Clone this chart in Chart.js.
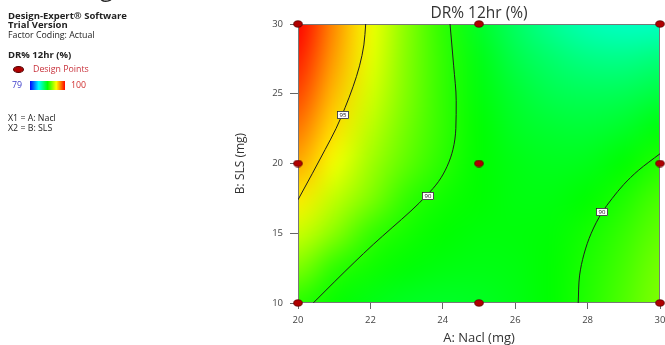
<!DOCTYPE html>
<html lang="en">
<head>
    <meta charset="UTF-8">
    <title>DR% 12hr (%)</title>
    <script src="https://cdn.jsdelivr.net/npm/chart.js@4.4.0/dist/chart.umd.min.js"></script>
    <style>
        body {
            margin: 0;
            background: #fff;
            font-family: 'Open Sans', sans-serif;
        }
        .wrap {
            position: relative;
            width: 665px;
            height: 345px;
            overflow: hidden;
        }
        #dr12Chart {
            position: absolute;
            left: 0;
            top: 0;
        }
        .side {
            position: absolute;
            left: 8px;
            font-size: 8.8px;
            line-height: 10px;
            color: #222;
            white-space: nowrap;
        }
        .bold { font-weight: bold; font-size: 9.5px; }
        .logo-g {
            position: absolute;
            left: 100px;
            top: -25px;
            font-size: 24px;
            line-height: 24px;
            color: #222;
        }
        .dot {
            display: inline-block;
            width: 11px;
            height: 7px;
            border-radius: 50%;
            background: #b00000;
            border: 1px solid #500;
            box-sizing: border-box;
            vertical-align: middle;
            margin: 0 9px 0 5px;
        }
        .bar {
            display: inline-block;
            width: 35px;
            height: 9px;
            vertical-align: middle;
            margin: 0 6px 0 8px;
            background: linear-gradient(to right, #0000ff, #00ffff 25%, #00ff00 50%, #ffff00 75%, #ff0000);
        }
    </style>
</head>
<body>

<div class="wrap">
    <canvas id="dr12Chart" width="665" height="345"></canvas>
    <div class="logo-g">g</div>
    <div class="side bold" style="top:11px">Design-Expert® Software</div>
    <div class="side bold" style="top:20px">Trial Version</div>
    <div class="side" style="top:30px">Factor Coding: Actual</div>
    <div class="side bold" style="top:50px">DR% 12hr (%)</div>
    <div class="side" style="top:64px"><span class="dot"></span><span style="color:#c8323c">Design Points</span></div>
    <div class="side" style="top:80px"><span style="color:#3c3cc8;margin-left:4px">79</span><span class="bar"></span><span style="color:#d03030">100</span></div>
    <div class="side" style="top:113px">X1 = A: Nacl</div>
    <div class="side" style="top:123px">X2 = B: SLS</div>
</div>

<script>
    // Factor levels of the response grid (A: Nacl across, B: SLS down)
    const nacl = [20, 21, 22, 23, 24, 25, 26, 27, 28, 29, 30];
    const sls = [30, 27.5, 25, 22.5, 20, 17.5, 15, 12.5, 10];

    // DR% 12hr, one row per SLS level
    const dr12 = [
        [100.0, 97.1, 94.5, 92.3, 90.4, 88.7, 87.5, 86.5, 85.8, 85.5, 85.5],
        [99.4, 96.7, 94.3, 92.2, 90.5, 89.1, 88.0, 87.3, 86.8, 86.7, 87.0],
        [98.6, 96.1, 93.9, 92.1, 90.5, 89.3, 88.5, 87.9, 87.7, 87.8, 88.2],
        [97.6, 95.4, 93.4, 91.8, 90.5, 89.5, 88.8, 88.5, 88.4, 88.7, 89.3],
        [96.5, 94.5, 92.8, 91.4, 90.3, 89.5, 89.1, 88.9, 89.0, 89.5, 90.2],
        [95.2, 93.5, 92.1, 90.5, 89.8, 89.5, 89.2, 89.2, 89.5, 90.1, 91.0],
        [93.7, 92.3, 90.6, 89.9, 89.5, 89.3, 89.3, 89.4, 89.9, 90.6, 91.5],
        [92.1, 90.4, 89.8, 89.4, 89.2, 89.1, 89.2, 89.5, 90.1, 90.9, 91.9],
        [90.3, 89.6, 89.1, 88.8, 88.7, 88.8, 89.1, 89.5, 90.2, 91.1, 92.1]
    ];
    const dr12Min = 79;
    const dr12Max = 100;

    // Contour lines, listed bottom to top
    const c95Nacl = [20.0, 20.4, 20.75, 21.05, 21.3, 21.52, 21.7, 21.82, 21.87];
    const c95Sls = [17.4, 19.3, 21, 22.5, 24, 25.5, 27, 28.5, 30];
    const c90LeftNacl = [20.42, 21.0, 21.55, 22.08, 22.6, 23.12, 23.55, 23.88, 24.12, 24.28, 24.36, 24.37, 24.3, 24.2];
    const c90LeftSls = [10, 11.5, 12.9, 14.2, 15.4, 16.6, 17.7, 18.7, 19.8, 21, 22.5, 24.5, 27, 30];
    const c90RightNacl = [27.74, 27.78, 27.9, 28.1, 28.4, 28.68, 29.0, 29.4, 30.0];
    const c90RightSls = [10, 12.0, 13.5, 15.0, 16.5, 17.5, 18.5, 19.5, 20.7];

    // Contour labels
    const labelText = ['95', '90', '90'];
    const labelNacl = [21.24, 23.6, 28.4];
    const labelSls = [23.5, 17.7, 16.5];

    // Design points
    const designNacl = [20, 20, 20, 25, 25, 25, 30, 30, 30];
    const designSls = [10, 20, 30, 10, 20, 30, 10, 20, 30];

    // Tick labels
    const xTicks = [20, 22, 24, 26, 28, 30];
    const yTicks = [10, 15, 20, 25, 30];

    const palette = [
        [0, [0, 0, 255]],
        [0.25, [0, 255, 255]],
        [0.5, [0, 255, 0]],
        [0.75, [255, 255, 0]],
        [1, [255, 0, 0]]
    ];

    function colorFor(v) {
        let t = (v - dr12Min) / (dr12Max - dr12Min);
        t = Math.max(0, Math.min(1, t));
        for (let i = 1; i < palette.length; i++) {
            if (t <= palette[i][0]) {
                const [t0, c0] = palette[i - 1];
                const [t1, c1] = palette[i];
                const f = (t - t0) / (t1 - t0);
                return c0.map((c, k) => Math.round(c + (c1[k] - c) * f));
            }
        }
        return palette[palette.length - 1][1];
    }

    function zip(xs, ys) {
        return xs.map((x, i) => ({ x: x, y: ys[i] }));
    }

    // elliptical marker for the design points
    const dotImg = document.createElement('canvas');
    dotImg.width = 10;
    dotImg.height = 8;
    const dctx = dotImg.getContext('2d');
    dctx.beginPath();
    dctx.ellipse(5, 4, 4.3, 3.2, 0, 0, Math.PI * 2);
    dctx.fillStyle = '#b00000';
    dctx.fill();
    dctx.lineWidth = 0.8;
    dctx.strokeStyle = '#5a0000';
    dctx.stroke();

    // colour map under the data
    const heatmap = {
        id: 'heatmap',
        beforeDatasetsDraw(chart) {
            const { ctx, chartArea, scales: { x, y } } = chart;
            const off = document.createElement('canvas');
            off.width = nacl.length;
            off.height = sls.length;
            const octx = off.getContext('2d');
            const img = octx.createImageData(off.width, off.height);
            dr12.forEach((row, j) => row.forEach((v, i) => {
                const [r, g, b] = colorFor(v);
                const k = (j * off.width + i) * 4;
                img.data[k] = r;
                img.data[k + 1] = g;
                img.data[k + 2] = b;
                img.data[k + 3] = 255;
            }));
            octx.putImageData(img, 0, 0);

            const dx = (nacl[1] - nacl[0]) / 2;
            const dy = (sls[0] - sls[1]) / 2;
            const left = x.getPixelForValue(nacl[0] - dx);
            const right = x.getPixelForValue(nacl[nacl.length - 1] + dx);
            const top = y.getPixelForValue(sls[0] + dy);
            const bottom = y.getPixelForValue(sls[sls.length - 1] - dy);

            ctx.save();
            ctx.beginPath();
            ctx.rect(chartArea.left, chartArea.top, chartArea.width, chartArea.height);
            ctx.clip();
            ctx.imageSmoothingEnabled = true;
            ctx.imageSmoothingQuality = 'high';
            ctx.drawImage(off, left, top, right - left, bottom - top);
            ctx.restore();

            ctx.save();
            ctx.strokeStyle = '#777';
            ctx.lineWidth = 1;
            ctx.strokeRect(Math.round(chartArea.left) + 0.5, Math.round(chartArea.top) + 0.5,
                Math.round(chartArea.width) - 1, Math.round(chartArea.height) - 1);
            ctx.restore();
        }
    };

    // boxed contour values and the chart title
    const labels = {
        id: 'labels',
        afterDatasetsDraw(chart) {
            const { ctx, chartArea, scales: { x, y } } = chart;
            ctx.save();
            ctx.font = '6px "Open Sans", sans-serif';
            ctx.textAlign = 'center';
            ctx.textBaseline = 'middle';
            labelText.forEach((t, i) => {
                const px = Math.round(x.getPixelForValue(labelNacl[i]));
                const py = Math.round(y.getPixelForValue(labelSls[i]));
                ctx.fillStyle = '#fff';
                ctx.fillRect(px - 6, py - 4, 12, 8);
                ctx.strokeStyle = '#222';
                ctx.lineWidth = 0.8;
                ctx.strokeRect(px - 5.5, py - 3.5, 11, 7);
                ctx.fillStyle = '#111';
                ctx.fillText(t, px, py + 0.5);
            });

            ctx.font = '15.5px "Open Sans", sans-serif';
            ctx.fillStyle = '#333';
            ctx.fillText('DR% 12hr (%)', (chartArea.left + chartArea.right) / 2, 14);
            ctx.restore();
        }
    };

    // contours run upward, so interpolate them along the y axis
    const contourStyle = {
        showLine: true,
        pointRadius: 0,
        borderColor: '#1e1e1e',
        borderWidth: 1,
        indexAxis: 'y',
        cubicInterpolationMode: 'monotone'
    };

    const ctx = document.getElementById('dr12Chart').getContext('2d');
    const dr12Chart = new Chart(ctx, {
        type: 'scatter',
        data: {
            datasets: [
                {
                    label: 'Design Points',
                    data: zip(designNacl, designSls),
                    pointStyle: dotImg,
                    clip: false
                },
                Object.assign({ label: '95', data: zip(c95Nacl, c95Sls) }, contourStyle),
                Object.assign({ label: '90', data: zip(c90LeftNacl, c90LeftSls) }, contourStyle),
                Object.assign({ label: '90', data: zip(c90RightNacl, c90RightSls) }, contourStyle)
            ]
        },
        options: {
            responsive: false,
            animation: false,
            events: [],
            layout: {
                padding: { left: 225, right: 3, top: 24, bottom: 0 }
            },
            plugins: {
                legend: { display: false },
                tooltip: { enabled: false }
            },
            scales: {
                x: {
                    type: 'linear',
                    min: 20,
                    max: 30,
                    afterBuildTicks: s => { s.ticks = xTicks.map(v => ({ value: v })); },
                    afterFit: s => { s.height = 42; s.paddingLeft = 0; s.paddingRight = 0; },
                    grid: { drawOnChartArea: false, tickLength: 6, color: '#666' },
                    border: { display: false },
                    ticks: {
                        maxRotation: 0,
                        padding: 6,
                        color: '#444',
                        font: { family: 'Open Sans', size: 9.5 }
                    },
                    title: {
                        display: true,
                        text: 'A: Nacl (mg)',
                        color: '#333',
                        padding: { top: 0, bottom: 0 },
                        font: { family: 'Open Sans', size: 13, lineHeight: 1.05 }
                    }
                },
                y: {
                    type: 'linear',
                    min: 10,
                    max: 30,
                    afterBuildTicks: s => { s.ticks = yTicks.map(v => ({ value: v })); },
                    afterFit: s => { s.width = 73; s.paddingTop = 0; s.paddingBottom = 0; },
                    grid: { drawOnChartArea: false, tickLength: 8, color: '#666' },
                    border: { display: false },
                    ticks: {
                        padding: 7,
                        color: '#444',
                        font: { family: 'Open Sans', size: 9.5 }
                    },
                    title: {
                        display: true,
                        text: 'B: SLS (mg)',
                        color: '#333',
                        padding: { top: 8, bottom: 0 },
                        font: { family: 'Open Sans', size: 12 }
                    }
                }
            }
        },
        plugins: [heatmap, labels]
    });
</script>

</body>
</html>
